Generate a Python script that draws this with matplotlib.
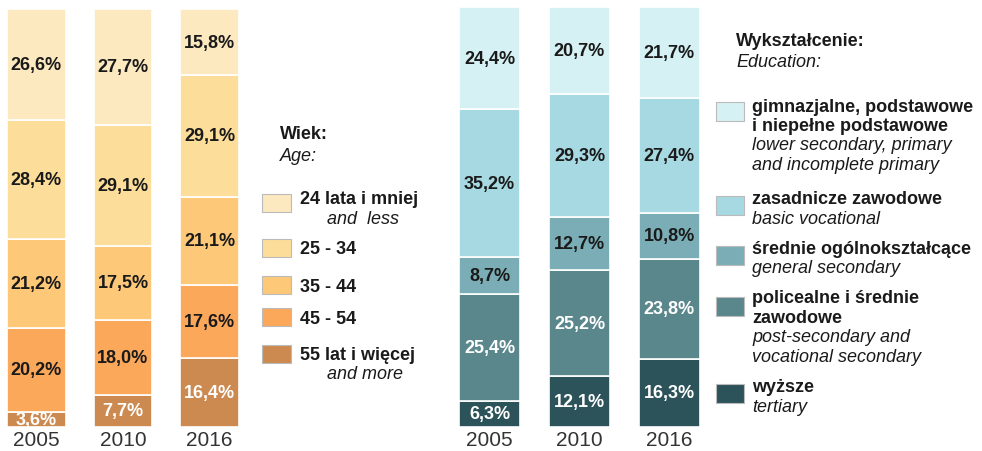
import matplotlib
matplotlib.use("Agg")
import matplotlib.pyplot as plt
import numpy as np

plt.rcParams["font.family"] = ["Liberation Sans", "DejaVu Sans"]

years = ["2005", "2010", "2016"]

# age groups, bottom to top
age_labels_pl = ["55 lat i więcej", "45 - 54", "35 - 44", "25 - 34", "24 lata i mniej"]
age_labels_en = ["and more", "", "", "", "and  less"]
age_55_plus = [3.6, 7.7, 16.4]
age_45_54 = [20.2, 18.0, 17.6]
age_35_44 = [21.2, 17.5, 21.1]
age_25_34 = [28.4, 29.1, 29.1]
age_24_less = [26.6, 27.7, 15.8]
age_colors = ["#cd8a50", "#fba85a", "#fdc878", "#fddd9a", "#fde9c0"]
age_text = ["white", "#1a1a1a", "#1a1a1a", "#1a1a1a", "#1a1a1a"]

# education, bottom to top
edu_tertiary = [6.3, 12.1, 16.3]
edu_postsec = [25.4, 25.2, 23.8]
edu_general = [8.7, 12.7, 10.8]
edu_basic = [35.2, 29.3, 27.4]
edu_lower = [24.4, 20.7, 21.7]
edu_colors = ["#2c535a", "#5a878c", "#7aadb5", "#a7d9e2", "#d5f1f4"]
edu_text = ["white", "white", "#1a1a1a", "#1a1a1a", "#1a1a1a"]

W, H = 982, 452
DARK = "#1a1a1a"
FS = 13


def px(x, y):
    # pixel (from top-left) -> figure fraction
    return x / W, 1 - y / H


def stacked(ax, series, colors, text_colors):
    x = np.arange(len(years))
    bottom = np.zeros(len(years))
    for vals, c, tc in zip(series, colors, text_colors):
        vals = np.array(vals)
        ax.bar(x, vals, 0.68, bottom=bottom, color=c, edgecolor="white", linewidth=1.2)
        for xi, v, b in zip(x, vals, bottom):
            ax.text(xi, b + v / 2, f"{v:.1f}".replace(".", ",") + "%", ha="center",
                    va="center", fontsize=FS, fontweight="bold", color=tc)
        bottom += vals
    ax.set_xlim(-0.34, 2.34)
    ax.set_ylim(0, 100)
    ax.set_xticks(x, years, fontsize=15, color="#333333")
    ax.tick_params(length=0, pad=2)
    ax.set_yticks([])
    for s in ax.spines.values():
        s.set_visible(False)


fig = plt.figure(figsize=(W / 100, H / 100), dpi=100)

ax1 = fig.add_axes([7 / W, 24 / H, 232 / W, 418 / H])
stacked(ax1, [age_55_plus, age_45_54, age_35_44, age_25_34, age_24_less], age_colors, age_text)

ax2 = fig.add_axes([459 / W, 24 / H, 241 / W, 420 / H])
stacked(ax2, [edu_tertiary, edu_postsec, edu_general, edu_basic, edu_lower], edu_colors, edu_text)


def swatch(x, y, w, h, color):
    fx, fy = px(x, y + h)
    fig.patches.append(plt.Rectangle((fx, fy), w / W, h / H, transform=fig.transFigure,
                                     facecolor=color, edgecolor="#bbbbbb", linewidth=0.8))


def line(x, y, s, bold):
    fig.text(*px(x, y), s, fontsize=FS, color=DARK, va="center",
             fontweight="bold" if bold else "normal", style="normal" if bold else "italic")


# age legend
line(280, 135, "Wiek:", True)
line(280, 157, "Age:", False)
age_sw_y = [195, 240, 277, 309, 346]
age_txt_y = [200, 250, 287, 319, 355]
for i, (yy, ty) in enumerate(zip(age_sw_y, age_txt_y)):
    k = len(age_colors) - 1 - i
    swatch(262, yy, 29, 18, age_colors[k])
    line(300, ty, age_labels_pl[k], True)
    if age_labels_en[k]:
        line(327, ty + 20, age_labels_en[k], False)

# education legend
edu_legend = [
    (["gimnazjalne, podstawowe", "i niepełne podstawowe"],
     ["lower secondary, primary", "and incomplete primary"]),
    (["zasadnicze zawodowe"], ["basic vocational"]),
    (["średnie ogólnokształcące"], ["general secondary"]),
    (["policealne i średnie", "zawodowe"], ["post-secondary and", "vocational secondary"]),
    (["wyższe"], ["tertiary"]),
]
line(736, 42, "Wykształcenie:", True)
line(736, 63, "Education:", False)
edu_sw_y = [103, 197, 247, 298, 385]
edu_txt_y = [107, 200, 249, 299, 388]
for i, (yy, ty) in enumerate(zip(edu_sw_y, edu_txt_y)):
    k = len(edu_colors) - 1 - i
    swatch(716, yy, 28, 19, edu_colors[k])
    pl, en = edu_legend[i]
    for s in pl:
        line(752, ty, s, True)
        ty += 19.5
    for s in en:
        line(752, ty, s, False)
        ty += 19.5

fig.savefig("out.png", dpi=100)
